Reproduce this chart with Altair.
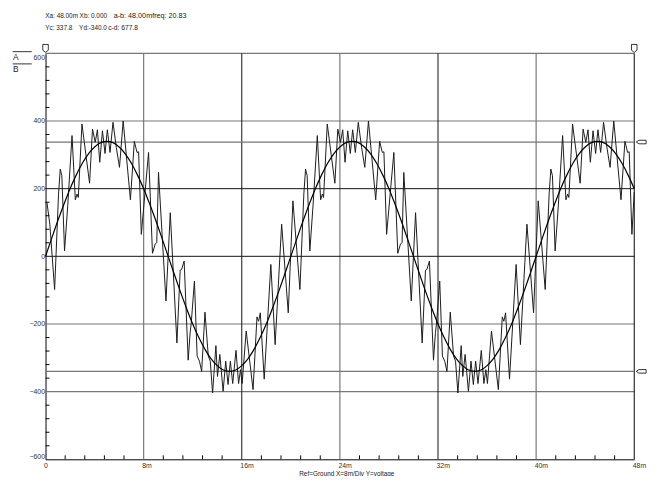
import altair as alt
import pandas as pd

W, H = 596, 411
FONT = "Liberation Sans, Arial"

# ---- smooth fundamental (time in m-units, value in volts), read every 0.5m
smooth_t = [0.0, 0.5, 1.0, 1.5, 2.0, 2.5, 3.0, 3.5, 4.0, 4.5, 5.0, 5.5, 6.0, 6.5, 7.0, 7.5, 8.0, 8.5, 9.0, 9.5,
            10.0, 10.5, 11.0, 11.5, 12.0, 12.5, 13.0, 13.5, 14.0, 14.5, 15.0, 15.5, 16.0, 16.5, 17.0, 17.5, 18.0, 18.5, 19.0, 19.5,
            20.0, 20.5, 21.0, 21.5, 22.0, 22.5, 23.0, 23.5, 24.0, 24.5, 25.0, 25.5, 26.0, 26.5, 27.0, 27.5, 28.0, 28.5, 29.0, 29.5,
            30.0, 30.5, 31.0, 31.5, 32.0, 32.5, 33.0, 33.5, 34.0, 34.5, 35.0, 35.5, 36.0, 36.5, 37.0, 37.5, 38.0, 38.5, 39.0, 39.5,
            40.0, 40.5, 41.0, 41.5, 42.0, 42.5, 43.0, 43.5, 44.0, 44.5, 45.0, 45.5, 46.0, 46.5, 47.0, 47.5, 48.0]
smooth_v = [0, 53, 105, 154, 200, 240, 275, 303, 323, 336, 340, 336, 323, 303, 275, 240, 200, 154, 105, 53,
            0, -53, -105, -154, -200, -240, -275, -303, -323, -336, -340, -336, -323, -303, -275, -240, -200, -154, -105, -53,
            0, 53, 105, 154, 200, 240, 275, 303, 323, 336, 340, 336, 323, 303, 275, 240, 200, 154, 105, 53,
            0, -53, -105, -154, -200, -240, -275, -303, -323, -336, -340, -336, -323, -303, -275, -240, -200, -154, -105, -53,
            0, 53, 105, 154, 200, 240, 275, 303, 323, 336, 340, 336, 323, 303, 275, 240, 200]

# ---- noisy trace vertices (t, v)
noisy_1 = [(0.00, 160), (0.12, 158), (0.35, 95), (0.74, -98), (1.06, 184), (1.20, 258), (1.33, 238), (1.55, 16),
           (1.81, 149), (2.16, 357), (2.43, 167), (2.57, 184), (2.67, 174), (2.97, 391), (3.59, 216), (3.83, 376),
           (4.05, 337), (4.23, 374), (4.42, 278), (4.64, 371), (4.85, 304), (5.04, 374), (5.26, 307), (5.50, 396),
           (5.77, 322), (6.03, 263), (6.33, 400), (6.92, 167), (7.24, 340), (7.46, 307), (7.59, 309), (7.81, 65),
           (8.40, 307), (8.72, 9), (8.94, 36), (9.07, 41), (9.21, 248), (9.82, -132), (10.17, 129), (10.71, -256),
           (10.98, -41), (11.09, -39), (11.30, -14), (11.63, -307), (11.79, -226), (11.88, -197), (12.14, -73),
           (12.36, -295), (12.55, -310), (12.73, -340), (13.00, -165), (13.27, -295), (13.43, -310), (13.62, -404),
           (13.89, -264), (14.02, -355), (14.21, -290), (14.48, -399), (14.69, -310), (14.88, -379), (15.07, -310),
           (15.26, -376), (15.53, -278), (15.74, -376), (15.90, -335), (16.03, -376), (16.36, -221), (16.92, -394),
           (17.24, -179), (17.37, -192), (17.51, -167), (17.83, -363), (18.37, -24), (18.72, -261), (19.25, 95),
           (19.79, -167)]
noisy_2 = [(20.17, 164), (20.74, -98), (21.06, 184), (21.20, 258), (21.33, 238), (21.55, 16),
           (21.81, 149), (22.16, 357), (22.43, 167), (22.57, 184), (22.67, 174), (22.97, 391), (23.59, 216), (23.83, 376),
           (24.05, 337), (24.23, 374), (24.42, 278), (24.64, 371), (24.85, 304), (25.04, 374), (25.26, 307), (25.50, 396),
           (25.77, 322), (26.03, 263), (26.33, 400), (26.92, 167), (27.24, 340), (27.46, 307), (27.59, 309), (27.81, 65),
           (28.40, 307), (28.72, 9), (28.94, 36), (29.07, 41), (29.21, 248), (29.82, -132), (30.17, 129), (30.71, -256),
           (30.98, -41), (31.09, -39), (31.30, -14), (31.63, -307), (31.79, -226), (31.88, -197), (32.14, -73),
           (32.36, -295), (32.55, -310), (32.73, -340), (33.00, -165), (33.27, -295), (33.43, -310), (33.62, -404),
           (33.89, -264), (34.02, -355), (34.21, -290), (34.48, -399), (34.69, -310), (34.88, -379), (35.07, -310),
           (35.26, -376), (35.53, -278), (35.74, -376), (35.90, -335), (36.03, -376), (36.36, -221), (36.92, -394),
           (37.24, -179), (37.37, -192), (37.51, -167), (37.83, -363), (38.37, -24), (38.72, -261), (39.25, 95),
           (39.79, -167)]
noisy_3 = [(40.17, 164), (40.74, -98), (41.06, 184), (41.20, 258), (41.33, 238), (41.55, 16),
           (41.81, 149), (42.16, 357), (42.43, 167), (42.57, 184), (42.67, 174), (42.97, 391), (43.59, 216), (43.83, 376),
           (44.05, 337), (44.23, 374), (44.42, 278), (44.64, 371), (44.85, 304), (45.04, 374), (45.26, 307), (45.50, 396),
           (45.77, 322), (46.03, 263), (46.33, 400), (46.92, 167), (47.24, 340), (47.46, 307), (47.59, 309), (47.81, 65),
           (48.00, 190)]

# ---- axes / grid values
y_major = [-600, -400, -200, 0, 200, 400, 600]
x_major = [0, 8, 16, 24, 32, 40, 48]
y_grid_dark = [0, 200]
y_grid_light = [-400, -200, 400, 600]
x_grid_dark = [16, 32]
x_grid_light = [8, 24, 40]
y_minor = [v for v in range(-600, 601, 40) if v % 200 != 0]
x_minor = [round(i * 1.6, 2) for i in range(31) if i % 5 != 0]
cursor_y = [337.8, -340.0]
top_markers = [0, 48]

xs = alt.Scale(domain=[0, 48], nice=False, zero=False)
ys = alt.Scale(domain=[-600, 600], nice=False, zero=False)

smooth_df = pd.DataFrame({"t": smooth_t, "v": smooth_v})
noisy_df = pd.DataFrame(noisy_1 + noisy_2 + noisy_3, columns=["t", "v"])
one = pd.DataFrame({"k": [0]})

DARK = "#111111"
LIGHT = "#777777"

xaxis = alt.Axis(values=x_major, grid=False, ticks=False, domain=True, domainColor="black", domainWidth=1,
                 labelExpr="datum.value == 0 ? '0' : datum.value + 'm'", labelAlign="left", labelOffset=-2,
                 labelPadding=2, labelFontSize=7, labelColor="#333", labelFont=FONT, title=None)
yaxis = alt.Axis(values=y_major, grid=False, ticks=False, domain=True, domainColor="black", domainWidth=1,
                 labelFlush=True, labelPadding=1, labelFontSize=7, labelColor="#333", labelFont=FONT, title=None)


def X(field="t"):
    return alt.X(f"{field}:Q", scale=xs, axis=xaxis)


def Y(field="v"):
    return alt.Y(f"{field}:Q", scale=ys, axis=yaxis)


hgrid_d = alt.Chart(pd.DataFrame({"v": y_grid_dark})).mark_rule(color=DARK, strokeWidth=1).encode(y=Y())
hgrid_l = alt.Chart(pd.DataFrame({"v": y_grid_light})).mark_rule(color=LIGHT, strokeWidth=1.2).encode(y=Y())
vgrid_d = alt.Chart(pd.DataFrame({"t": x_grid_dark})).mark_rule(color=DARK, strokeWidth=1).encode(x=X())
vgrid_l = alt.Chart(pd.DataFrame({"t": x_grid_light})).mark_rule(color=LIGHT, strokeWidth=1.2).encode(x=X())
right_border = alt.Chart(pd.DataFrame({"t": [48]})).mark_rule(color="black", strokeWidth=1).encode(x=X())
cursors = alt.Chart(pd.DataFrame({"v": cursor_y})).mark_rule(color=LIGHT, strokeWidth=1.2).encode(y=Y())

noisy = alt.Chart(noisy_df).mark_line(color="#1a1a1a", strokeWidth=1).encode(x=X(), y=Y(), order="t:Q")
smooth = alt.Chart(smooth_df).mark_line(color="black", strokeWidth=1.2, interpolate="monotone").encode(x=X(), y=Y())

yticks = alt.Chart(pd.DataFrame({"v": y_minor})).mark_rule(color="black", strokeWidth=1).encode(
    y=Y(), x=alt.value(0), x2=alt.value(4))
xticks = alt.Chart(pd.DataFrame({"t": x_minor})).mark_rule(color="black", strokeWidth=1).encode(
    x=X(), y=alt.value(H), y2=alt.value(H - 4))

right_shape = "M-1,0 L-0.45,-0.36 L1,-0.36 L1,0.36 L-0.45,0.36 Z"
top_shape = "M0,1 L-0.7,0.45 L-0.7,-1 L0.7,-1 L0.7,0.45 Z"
right_marks = alt.Chart(pd.DataFrame({"v": cursor_y, "t": [48, 48]})).mark_point(
    shape=right_shape, size=100, filled=True, fill="white", stroke="black", strokeWidth=0.8, opacity=1, xOffset=7
).encode(x=X(), y=Y())
top_marks = alt.Chart(pd.DataFrame({"t": top_markers, "v": [600, 600]})).mark_point(
    shape=top_shape, size=64, filled=True, fill="white", stroke="black", strokeWidth=0.8, opacity=1, yOffset=-5
).encode(x=X(), y=Y())


def txt(s, x, y, align="left", size=6.5):
    return alt.Chart(one).mark_text(text=s, align=align, baseline="middle", font=FONT, fontSize=size,
                                    color="#222").encode(x=alt.value(x), y=alt.value(y))


def hline(x1, x2, y):
    return alt.Chart(one).mark_rule(color="#333", strokeWidth=1).encode(
        x=alt.value(x1), x2=alt.value(x2), y=alt.value(y))


texts = [
    txt("Xa: 48.00m", -0.3, -37.7),
    txt("Xb: 0.000", 34.5, -37.7),
    txt("a-b: 48.00mfreq: 20.83", 69, -37.7, size=7.3),
    txt("Yc: 337.8", -0.3, -26),
    txt("Yd:-340.0", 34, -26),
    txt("c-d: 677.8", 63.5, -26, size=6.8),
    txt("A", -33, 4, size=8.5),
    txt("B", -33, 16, size=8.5),
    txt("Ref=Ground  X=8m/Div Y=voltage", 305, 426, align="center", size=6.5),
    hline(-33.3, -14, -1.7),
    hline(-33.3, -14, 10.7),
]

chart = alt.layer(
    hgrid_l, vgrid_l, hgrid_d, vgrid_d, right_border, cursors, noisy, smooth, yticks, xticks,
    right_marks, top_marks, *texts
).properties(
    width=W, height=H, autosize=alt.AutoSizeParams(type="none"),
    padding={"left": 38, "top": 43, "right": 20, "bottom": 14},
    background="white"
).configure_view(stroke=None)

chart.save("out.html", embed_options={"renderer": "svg", "actions": False})
